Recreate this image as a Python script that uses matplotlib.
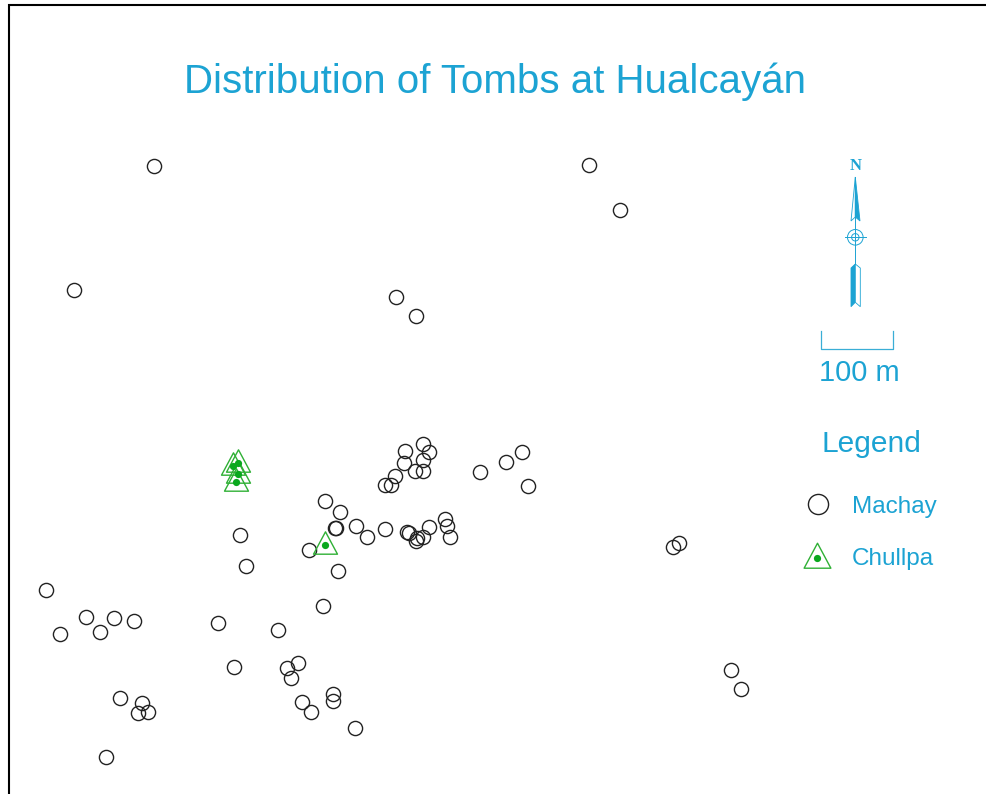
import numpy as np
import matplotlib
matplotlib.use("Agg")
import matplotlib.pyplot as plt
from matplotlib.path import Path
from matplotlib.patches import Polygon, Circle

plt.rcParams["font.family"] = ["Liberation Sans", "DejaVu Sans"]

BLUE = "#1ca3d3"
GREEN = "#2fb035"

# 图上读出的位置（像素口径）
machay_x = [154, 589, 620, 74, 396, 416,
            423, 429, 405, 404, 423, 415, 423, 395, 391, 385,
            325, 340, 335, 336, 356, 367, 385, 407, 409, 429, 423, 417, 416,
            445, 447, 450, 240, 309, 246, 338,
            480, 506, 522, 528, 673, 679,
            46, 86, 60, 100, 114, 134, 218, 323, 278, 234, 287, 298, 291,
            120, 142, 138, 148, 302, 333, 333, 311, 355, 106, 731, 741]
machay_y = [166, 165, 210, 290, 297, 316,
            444, 452, 451, 463, 460, 471, 471, 476, 485, 485,
            501, 512, 528, 528, 526, 537, 529, 532, 533, 527, 537, 538, 541,
            519, 526, 537, 535, 550, 566, 571,
            472, 462, 452, 486, 547, 543,
            590, 617, 634, 632, 618, 621, 623, 606, 630, 667, 668, 663, 678,
            698, 703, 713, 712, 702, 694, 701, 712, 728, 757, 670, 689]
chullpa_x = [238, 233, 238, 236, 325]
chullpa_y = [463, 466, 474, 482, 545]

legend_labels = ["Machay", "Chullpa"]
title_text = "Distribution of Tombs at Hualcayán"
scale_text = "100 m"

fig = plt.figure(figsize=(9.87, 7.94), dpi=100)
ax = fig.add_axes([0, 0, 1, 1])
ax.set_xlim(0, 987)
ax.set_ylim(794, 0)
ax.axis("off")

# 图框：只有左边和上边在画面内
ax.plot([9, 9, 987], [794, 5, 5], color="black", lw=1.5, solid_joinstyle="miter")

# 三角形符号，圆点不在几何中心
tri = Path([(0, 13.7), (-12, -8.7), (12, -8.7), (0, 13.7)], closed=True)


def draw_machay(x, y, size=10.2):
    ax.plot(x, y, ls="none", marker="o", ms=size, mfc="none", mec="#222222", mew=1.0)


def draw_chullpa(x, y, size=19.7):
    ax.plot(x, y, ls="none", marker=tri, ms=size, mfc="none", mec=GREEN, mew=1.0)
    ax.plot(x, y, ls="none", marker="o", ms=5.2, mfc="#0aa81e", mec="none")


draw_machay(machay_x, machay_y)
draw_chullpa(chullpa_x, chullpa_y)

ax.text(495, 82, title_text, color=BLUE, fontsize=29, ha="center", va="center")

# 指北针
ax.text(855.5, 166, "N", color=BLUE, fontsize=12, fontweight="bold",
        family="Liberation Serif", ha="center", va="center")
ax.plot([855.3, 855.3], [177, 264], color=BLUE, lw=0.7)
ax.add_patch(Polygon([(855.3, 177), (851, 221), (855.3, 217)], closed=True, fc="white", ec=BLUE, lw=0.6))
ax.add_patch(Polygon([(855.3, 177), (860, 221), (855.3, 217)], closed=True, fc=BLUE, ec=BLUE, lw=0.6))
ax.add_patch(Polygon([(855.3, 264), (851, 268), (851, 306.7), (855.3, 302.3)], closed=True, fc=BLUE, ec=BLUE, lw=0.6))
ax.add_patch(Polygon([(855.3, 264), (860.3, 268), (860.3, 306.7), (855.3, 302.3)], closed=True, fc="white", ec=BLUE, lw=0.6))
for r in (7.8, 3.7):
    ax.add_patch(Circle((855.3, 237.3), r, fc="none", ec=BLUE, lw=0.7))
ax.plot([845, 866], [237.3, 237.3], color=BLUE, lw=0.7)

# 比例尺
ax.plot([820.5, 820.5, 892.7, 892.7], [331, 349, 349, 331], color="#3aaed6", lw=0.9)
ax.text(859, 373, scale_text, color=BLUE, fontsize=21, ha="center", va="center")

# 图例
ax.text(871, 444, "Legend", color=BLUE, fontsize=21.5, ha="center", va="center")
draw_machay([818], [504], size=14.5)
draw_chullpa([816.7], [558], size=22)
ax.text(852, 507, legend_labels[0], color=BLUE, fontsize=17.5, ha="left", va="center")
ax.text(852, 559, legend_labels[1], color=BLUE, fontsize=17.5, ha="left", va="center")

fig.savefig("out.png", dpi=100)
plt.close(fig)
